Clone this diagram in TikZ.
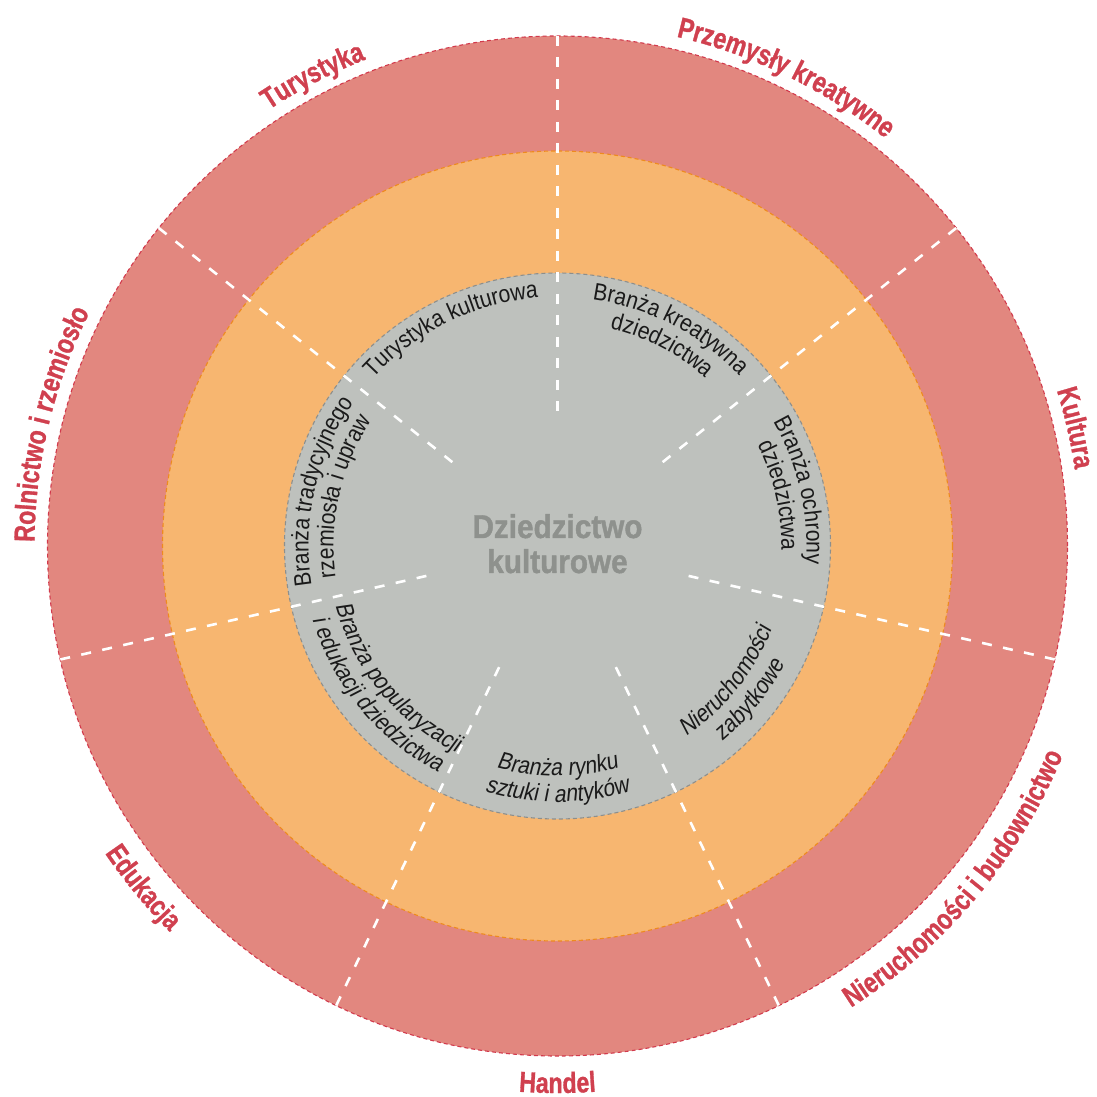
\documentclass[tikz,border=0pt]{standalone}
\usepackage{fontspec}
\usetikzlibrary{decorations.text}
\newfontfamily\outerf[FakeStretch=0.8,FakeBold=1]{Liberation Sans}
\newfontfamily\innerf[FakeStretch=0.88]{Liberation Sans}
\newfontfamily\innerslf[FakeStretch=0.88,FakeSlant=0.15]{Liberation Sans}
\newfontfamily\centerf[FakeStretch=0.9,FakeBold=1.2]{Liberation Sans}
\definecolor{ringred}{HTML}{E2877F}
\definecolor{ringorange}{HTML}{F7B670}
\definecolor{ringgrey}{HTML}{BEC1BD}
\definecolor{labelred}{HTML}{D0404F}
\definecolor{borderred}{HTML}{D23A4C}
\definecolor{borderorange}{HTML}{EE8B1E}
\definecolor{bordergrey}{HTML}{8D8F8D}
\definecolor{centergrey}{HTML}{8E918D}
\definecolor{innertext}{HTML}{1A1A1A}
\newcommand\OL{\outerf\bfseries\fontsize{29}{30}\selectfont\color{labelred}}
\newcommand\IL{\innerf\fontsize{24}{25}\selectfont\color{innertext}}
\newcommand\ILs{\innerslf\fontsize{24}{25}\selectfont\color{innertext}}
% clockwise text, tops outward
\newcommand\cwtext[5]{%
  \path[decorate,color=#5,decoration={text along path,text align=center,text={|#3|#4}}]
    ({#2+50}:#1pt) arc[start angle={#2+50}, end angle={#2-50}, radius=#1pt];}
% counter-clockwise text, tops inward
\newcommand\ccwtext[5]{%
  \path[decorate,color=#5,decoration={text along path,text align=center,text={|#3|#4}}]
    ({#2-50}:#1pt) arc[start angle={#2-50}, end angle={#2+50}, radius=#1pt];}
\tikzset{
  divider/.style={white, line width=2.6pt, dash pattern=on 10pt off 11.5pt},
  ringborder/.style={line width=1.1pt, dash pattern=on 4pt off 3pt},
  centertext/.style={font=\centerf\bfseries\fontsize{33}{35}\selectfont, text=centergrey, anchor=base, inner sep=0pt}
}
\begin{document}
\begin{tikzpicture}
\useasboundingbox[fill=white] (-557.5pt,-551pt) rectangle (539.5pt,546pt);
% rings
\fill[ringred] (0,0) circle[radius=510pt];
\draw[ringborder, borderred] (0,0) circle[radius=510pt];
\fill[ringorange] (0,0) circle[radius=395pt];
\draw[ringborder, borderorange] (0,0) circle[radius=395pt];
\fill[ringgrey] (0,0) circle[radius=273pt];
\draw[ringborder, bordergrey] (0,0) circle[radius=273pt];
% dividers
\foreach \a in {90, 38.5714, -12.8571, -64.2857, -115.7143, -167.1429, 141.4286}
  \draw[divider] (\a:510pt) -- (\a:133pt);
% centre
\node[centertext] (c1) at (0,8pt) {Dziedzictwo};
\node[centertext] (c2) at (0,-27pt) {kulturowe};
% outer labels
\cwtext{523}{64.0}{\OL}{Przemysły kreatywne}{labelred}
\cwtext{523}{12.86}{\OL}{Kultura}{labelred}
\cwtext{523}{117.5}{\OL}{Turystyka}{labelred}
\cwtext{523}{166.5}{\OL}{Rolnictwo i rzemiosło}{labelred}
\ccwtext{547}{-90}{\OL}{Handel}{labelred}
\ccwtext{547}{-140.5}{\OL}{Edukacja}{labelred}
\ccwtext{547}{-40}{\OL}{Nieruchomości i budownictwo}{labelred}
% inner labels
\cwtext{249}{116}{\IL}{Turystyka kulturowa}{innertext}
\cwtext{249}{62.5}{\IL}{Branża kreatywna}{innertext}
\cwtext{224}{62.5}{\IL}{dziedzictwa}{innertext}
\cwtext{249}{12.86}{\IL}{Branża ochrony}{innertext}
\cwtext{224}{12.86}{\IL}{dziedzictwa}{innertext}
\cwtext{249}{167}{\IL}{Branża tradycyjnego}{innertext}
\cwtext{224}{167}{\IL}{rzemiosła i upraw}{innertext}
\ccwtext{230}{-38.57}{\ILs}{Nieruchomości}{innertext}
\ccwtext{256}{-38.57}{\ILs}{zabytkowe}{innertext}
\ccwtext{230}{-90}{\ILs}{Branża rynku}{innertext}
\ccwtext{256}{-90}{\ILs}{sztuki i antyków}{innertext}
\ccwtext{230}{-140.5}{\ILs}{Branża popularyzacji}{innertext}
\ccwtext{256}{-140.5}{\ILs}{i edukacji dziedzictwa}{innertext}
\end{tikzpicture}
\end{document}
